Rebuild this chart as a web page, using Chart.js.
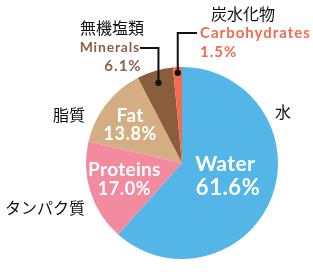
<!DOCTYPE html>
<html>
<head>
<meta charset="utf-8">
<script src="https://cdn.jsdelivr.net/npm/chart.js@4"></script>
<style>
  html, body { margin: 0; padding: 0; background: #fff; }
  #wrap { width: 313px; height: 272px; position: relative; }
</style>
</head>
<body>
<div id="wrap"><canvas id="bodyPie"></canvas></div>
<script>
// composition of the human body (%)
const labelsEn = ['Water', 'Proteins', 'Fat', 'Minerals', 'Carbohydrates'];
const labelsJa = ['水', 'タンパク質', '脂質', '無機塩類', '炭水化物'];
const values = [61.6, 17.0, 13.8, 6.1, 1.5];
const sliceColors = ['#54B6E6', '#F28AA0', '#D4AD83', '#8A5E3C', '#F36C50'];

document.addEventListener('DOMContentLoaded', function() {

    const jaFont = '"Noto Sans CJK JP", sans-serif';
    const enFont = 'Lato, "Open Sans", sans-serif';

    function text(ctx, str, x, y, font, color, align, spacing) {
        ctx.font = font;
        ctx.fillStyle = color;
        ctx.textAlign = align || 'center';
        ctx.textBaseline = 'middle';
        ctx.letterSpacing = (spacing || 0) + 'px';
        ctx.fillText(str, x, y);
        ctx.letterSpacing = '0px';
    }

    // point on the arc's mid angle, at a fraction of the radius
    function arcPoint(arc, frac) {
        const mid = (arc.startAngle + arc.endAngle) / 2;
        const r = arc.outerRadius * frac;
        return { x: arc.x + Math.cos(mid) * r, y: arc.y + Math.sin(mid) * r };
    }

    const labelPlugin = {
        id: 'bodyLabels',
        afterDatasetsDraw(chart) {
            const ctx = chart.ctx;
            const arcs = chart.getDatasetMeta(0).data;
            const cx = arcs[0].x, cy = arcs[0].y, R = arcs[0].outerRadius;
            const pct = i => values[i].toFixed(1) + '%';
            ctx.save();

            // inside labels
            text(ctx, labelsEn[0], cx + R * 0.45, cy + 1, 'bold 21px ' + enFont, '#fff', 'center', 0.4);
            text(ctx, pct(0), cx + R * 0.48, cy + 25, 'bold 22px ' + enFont, '#fff', 'center', 0.6);
            text(ctx, labelsEn[1], cx - R * 0.6, cy + 7, 'bold 19px ' + enFont, '#fff', 'center', 0.3);
            text(ctx, pct(1), cx - R * 0.6, cy + 26, 'bold 18px ' + enFont, '#fff', 'center', 0.6);
            text(ctx, labelsEn[2], cx - R * 0.54, cy - 47, 'bold 19px ' + enFont, '#fff', 'center', 0.4);
            text(ctx, pct(2), cx - R * 0.54, cy - 29, 'bold 18px ' + enFont, '#fff', 'center', 0.6);

            // japanese names outside
            text(ctx, labelsJa[0], cx + 101, cy - 51, '16px ' + jaFont, '#111');
            text(ctx, labelsJa[1], cx - 137, cy + 45, '16px ' + jaFont, '#111');
            text(ctx, labelsJa[2], cx - 113, cy - 48, '16px ' + jaFont, '#111');
            text(ctx, labelsJa[3], cx - 70, cy - 135, '16px ' + jaFont, '#111');
            text(ctx, labelsJa[4], cx + 61, cy - 149, '16px ' + jaFont, '#111');

            // minerals callout
            const pm = arcPoint(arcs[3], 0.87);
            const my = cy - 116;
            text(ctx, labelsEn[3], cx - 42, my, 'bold 14px ' + enFont, '#8B6248', 'right', 0.8);
            text(ctx, pct(3), cx - 59, my + 19, 'bold 15px ' + enFont, '#8B6248', 'center', 1);
            ctx.strokeStyle = '#111';
            ctx.lineWidth = 2;
            ctx.beginPath();
            ctx.moveTo(cx - 42, my + 1);
            ctx.lineTo(pm.x, my + 1);
            ctx.lineTo(pm.x, pm.y);
            ctx.stroke();
            ctx.fillStyle = '#111';
            ctx.beginPath();
            ctx.arc(pm.x, pm.y, 3.2, 0, Math.PI * 2);
            ctx.fill();

            // carbohydrates callout
            const pc = arcPoint(arcs[4], 0.94);
            const cyy = cy - 130;
            text(ctx, labelsEn[4], cx + 18, cyy, 'bold 15px ' + enFont, '#F26B50', 'left', 1);
            text(ctx, pct(4), cx + 18, cyy + 19, 'bold 15px ' + enFont, '#F26B50', 'left', 1);
            ctx.strokeStyle = '#111';
            ctx.beginPath();
            ctx.moveTo(cx + 15, cyy);
            ctx.lineTo(pc.x, cyy);
            ctx.lineTo(pc.x, pc.y);
            ctx.stroke();
            ctx.fillStyle = '#111';
            ctx.beginPath();
            ctx.arc(pc.x, pc.y, 3.2, 0, Math.PI * 2);
            ctx.fill();

            ctx.restore();
        }
    };

    const canvas = document.getElementById('bodyPie');
    new Chart(canvas.getContext('2d'), {
        type: 'pie',
        data: {
            labels: labelsEn,
            datasets: [{
                data: values,
                backgroundColor: sliceColors,
                borderWidth: 0
            }]
        },
        options: {
            responsive: true,
            maintainAspectRatio: false,
            animation: false,
            layout: { padding: { left: 86, right: 35, top: 67, bottom: 13 } },
            plugins: {
                legend: { display: false },
                tooltip: { enabled: false }
            }
        },
        plugins: [labelPlugin]
    });
});
</script>
</body>
</html>
